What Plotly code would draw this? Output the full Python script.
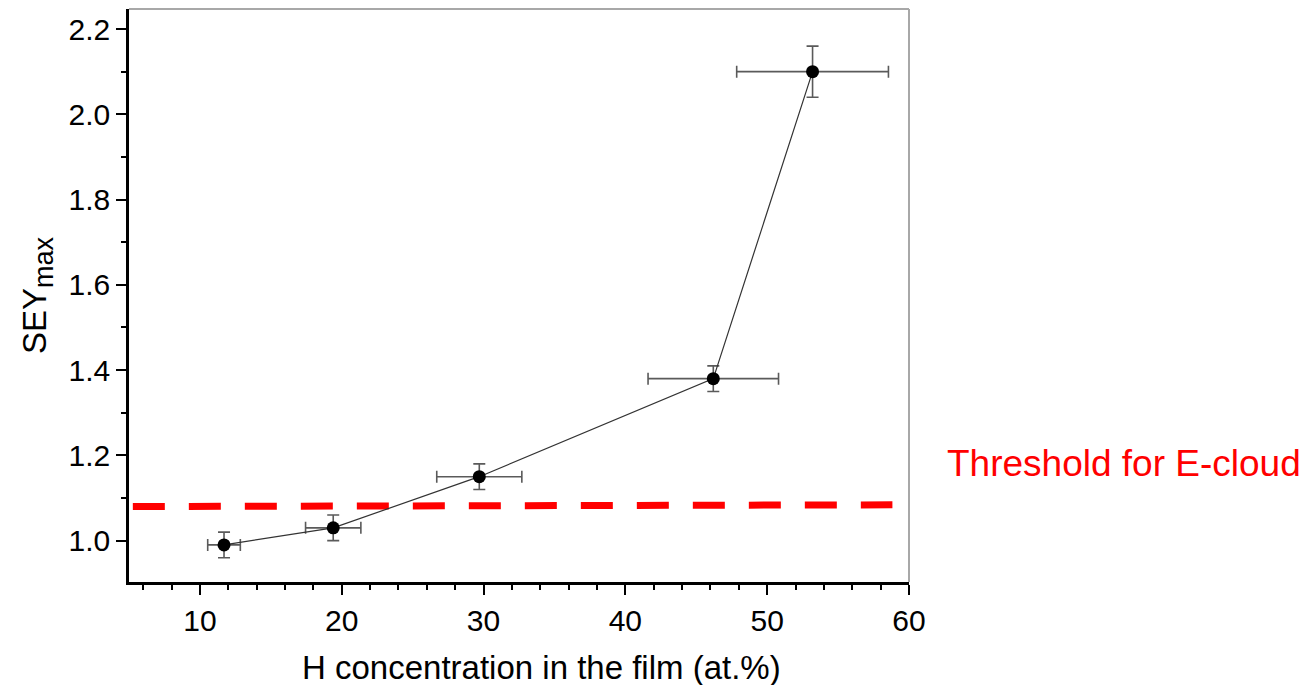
import plotly.graph_objects as go

# H concentration (at.%) and maximum secondary electron yield
h_conc = [11.7, 19.4, 29.7, 46.2, 53.2]
h_err = [1.15, 1.95, 3.0, 4.6, 5.35]
sey_max = [0.99, 1.03, 1.15, 1.38, 2.10]
sey_err = [0.03, 0.03, 0.03, 0.03, 0.06]

# E-cloud threshold line (start / end)
thr_x = [5.27, 58.83]
thr_y = [1.080, 1.084]

x_ticks = [10, 20, 30, 40, 50, 60]
y_ticks = [1.0, 1.2, 1.4, 1.6, 1.8, 2.0, 2.2]

FONT = "Liberation Sans, Arial, sans-serif"

fig = go.Figure()

fig.add_trace(go.Scatter(
    x=thr_x, y=thr_y, mode="lines",
    line=dict(color="#ff0000", width=7, dash="32px,24px"),
    hoverinfo="skip", showlegend=False,
))

fig.add_trace(go.Scatter(
    x=h_conc, y=sey_max, mode="lines+markers",
    line=dict(color="#333333", width=1.2),
    marker=dict(color="black", size=13, symbol="circle"),
    error_x=dict(type="data", array=h_err, color="#5a5a5a", thickness=1.6, width=6),
    error_y=dict(type="data", array=sey_err, color="#5a5a5a", thickness=1.6, width=6),
    showlegend=False,
))

axis_common = dict(
    showgrid=False, zeroline=False, showline=True,
    linecolor="black", linewidth=2.5,
    ticks="outside", ticklen=10, tickwidth=2, tickcolor="black",
    tickfont=dict(family=FONT, size=30, color="black"),
)

fig.update_xaxes(
    range=[5, 60], tickvals=x_ticks,
    minor=dict(ticks="outside", ticklen=5, tickwidth=2, tickcolor="black", dtick=2, tick0=0),
    **axis_common,
)
fig.update_yaxes(
    range=[0.903, 2.247], tickvals=y_ticks, ticktext=[f"{v:.1f}" for v in y_ticks],
    minor=dict(ticks="outside", ticklen=5, tickwidth=2, tickcolor="black", dtick=0.1, tick0=0),
    title=dict(text="SEY<sub><span style='font-size:27px'>max</span></sub>",
               font=dict(family=FONT, size=33, color="black"), standoff=12),
    **axis_common,
)

# light frame on top and right
fig.add_shape(type="line", xref="paper", yref="paper", x0=0, y0=1, x1=1, y1=1,
              line=dict(color="#a8a8a8", width=2))
fig.add_shape(type="line", xref="paper", yref="paper", x0=1, y0=0, x1=1, y1=1,
              line=dict(color="#a8a8a8", width=2))

# x-axis title
fig.add_annotation(
    text="H concentration in the film (at.%)", xref="paper", yref="paper",
    x=(541.5 - 129) / 780, y=-(667 - 582) / 573, xanchor="center", yanchor="middle",
    showarrow=False, font=dict(family=FONT, size=33, color="black"),
)

fig.add_annotation(
    text="Threshold for E-cloud", xref="paper", yref="y",
    x=(945 - 129) / 780, y=1.182, xanchor="left", yanchor="middle",
    showarrow=False, font=dict(family=FONT, size=37, color="#ff0000"),
)

fig.update_layout(
    width=1307, height=685,
    margin=dict(l=129, r=398, t=9, b=103, autoexpand=False),
    plot_bgcolor="white", paper_bgcolor="white",
)

fig.write_html("out.html")
